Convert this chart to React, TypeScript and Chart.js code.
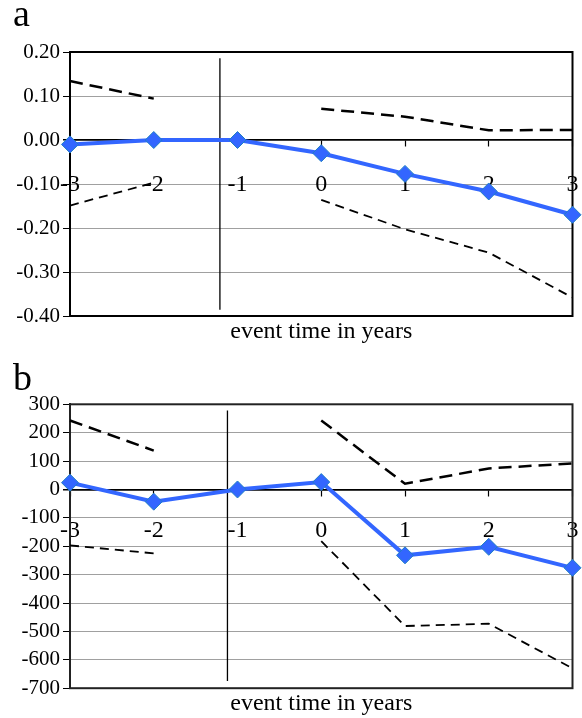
import React, { useEffect, useRef } from 'react';
import { Chart, registerables } from 'chart.js';

Chart.register(...registerables);

const FONT = "'Liberation Serif', 'Times New Roman', serif";

// shared x categories (event time)
const xCategories = [-3, -2, -1, 0, 1, 2, 3];
const xTickLabels = ['-3', '-2', '-1', '0', '1', '2', '3'];
const xTitle = 'event time in years';

// panel a
const aEstimate = [-0.01, 0.0, 0.0, -0.03, -0.077, -0.117, -0.17];
const aUpper = [0.134, 0.094, null, 0.071, 0.053, 0.022, 0.023];
const aLower = [-0.149, -0.097, null, -0.136, -0.203, -0.256, -0.358];
const aYTickLabels = ['-0.40', '-0.30', '-0.20', '-0.10', '0.00', '0.10', '0.20'];
const aVLineX = [-1.21, -1.21];
const aVLineY = [0.186, -0.386];

// panel b
const bEstimate = [24, -43, 0, 26, -232, -202, -276];
const bUpper = [243, 137, null, 243, 20, 74, 92];
const bLower = [-197, -225, null, -182, -481, -473, -630];
const bYTickLabels = ['-700', '-600', '-500', '-400', '-300', '-200', '-100', '0', '100', '200', '300'];
const bVLineX = [-1.12, -1.12];
const bVLineY = [278, -675];

const plotBorder = {
  id: 'plotBorder',
  beforeDatasetsDraw(chart: any, _args: any, opts: any) {
    const { ctx, chartArea: a } = chart;
    ctx.save();
    ctx.strokeStyle = opts.color || '#000';
    ctx.lineWidth = opts.width || 1.5;
    ctx.strokeRect(a.left, a.top, a.right - a.left, a.bottom - a.top);
    ctx.restore();
  },
};

type PanelProps = {
  est: (number | null)[];
  upper: (number | null)[];
  lower: (number | null)[];
  yLabels: string[];
  yMin: number;
  yMax: number;
  yStep: number;
  vx: number[];
  vy: number[];
  width: number;
  height: number;
  padding: { top: number; right: number; bottom: number; left: number };
  xLabelPad: number;
  borderColor: string;
};

function Panel(p: PanelProps) {
  const ref = useRef<HTMLCanvasElement | null>(null);
  useEffect(() => {
    if (!ref.current) return;
    const pts = (arr: (number | null)[]) => xCategories.map((x, i) => ({ x, y: arr[i] }));
    const chart = new Chart(ref.current, {
      type: 'line',
      data: {
        datasets: [
          {
            data: pts(p.est),
            borderColor: '#3366ff',
            backgroundColor: '#3366ff',
            borderWidth: 4,
            pointStyle: 'rectRot',
            pointRadius: 8.5,
            pointBackgroundColor: '#3366ff',
            pointBorderColor: '#1f7fc4',
            pointBorderWidth: 1,
            clip: false,
          } as any,
          {
            data: pts(p.upper),
            borderColor: '#000',
            borderWidth: 2.5,
            borderDash: [13, 7],
            pointRadius: 0,
            spanGaps: false,
            clip: false,
          },
          {
            data: pts(p.lower),
            borderColor: '#000',
            borderWidth: 1.8,
            borderDash: [9, 6],
            pointRadius: 0,
            spanGaps: false,
            clip: false,
          },
          {
            data: p.vx.map((x, i) => ({ x, y: p.vy[i] })),
            borderColor: '#000',
            borderWidth: 1.3,
            pointRadius: 0,
            clip: false,
          },
        ],
      },
      options: {
        responsive: false,
        animation: false,
        events: [],
        layout: { padding: p.padding },
        scales: {
          x: {
            type: 'linear',
            min: -3,
            max: 3,
            position: { y: 0 } as any,
            afterBuildTicks: (s: any) => {
              s.ticks = xCategories.map((v) => ({ value: v }));
            },
            afterFit: (s: any) => {
              s.paddingLeft = 0;
              s.paddingRight = 0;
            },
            ticks: {
              padding: p.xLabelPad,
              color: '#000',
              font: { family: FONT, size: 24 },
              maxRotation: 0,
              callback: (v: any) => {
                const i = xCategories.indexOf(Number(v));
                return i >= 0 ? xTickLabels[i] : '';
              },
            },
            grid: {
              drawOnChartArea: false,
              drawTicks: true,
              tickLength: 6,
              tickColor: '#000',
              tickWidth: 1.2,
            },
            border: { display: true, color: '#000', width: 1.5 },
          },
          y: {
            type: 'linear',
            min: p.yMin,
            max: p.yMax,
            afterFit: (s: any) => {
              s.width = 70;
            },
            ticks: {
              stepSize: p.yStep,
              padding: 3,
              color: '#000',
              font: { family: FONT, size: 21 },
              callback: (v: any) => {
                const n = Number(v);
                const lab = p.yLabels.find((l) => Math.abs(parseFloat(l) - n) < p.yStep / 100);
                return lab ?? '';
              },
            },
            grid: {
              color: (c: any) => (c.tick && Math.abs(c.tick.value) < 1e-9 ? '#000' : '#a0a0a0'),
              lineWidth: (c: any) => (c.tick && Math.abs(c.tick.value) < 1e-9 ? 1.5 : 1),
              drawTicks: true,
              tickLength: 7,
              tickColor: '#000',
            },
            border: { display: true, color: p.borderColor, width: 2 },
          },
        },
        plugins: {
          legend: { display: false },
          tooltip: { enabled: false },
          title: {
            display: true,
            text: xTitle,
            position: 'bottom',
            fullSize: false,
            color: '#000',
            font: { family: FONT, size: 24, weight: 'normal' },
            padding: { top: 1, bottom: 0 },
          },
          plotBorder: { color: p.borderColor, width: 2 },
        } as any,
      },
      plugins: [plotBorder],
    });
    return () => chart.destroy();
  }, []);
  return <canvas ref={ref} width={p.width} height={p.height} style={{ display: 'block', width: p.width, height: p.height }} />;
}

const letterStyle: React.CSSProperties = {
  position: 'absolute',
  left: 13,
  fontFamily: FONT,
  fontSize: 38,
  lineHeight: '38px',
  color: '#000',
};

export default function App() {
  return (
    <div style={{ position: 'absolute', left: 0, top: 0, width: 582, height: 718, background: '#fff' }}>
      <div style={{ position: 'absolute', left: 0, top: 0 }}>
        <Panel
          est={aEstimate}
          upper={aUpper}
          lower={aLower}
          yLabels={aYTickLabels}
          yMin={-0.4}
          yMax={0.2}
          yStep={0.1}
          vx={aVLineX}
          vy={aVLineY}
          width={582}
          height={360}
          padding={{ top: 52, right: 7, bottom: 14.2, left: 0 }}
          xLabelPad={24}
          borderColor="#000"
        />
      </div>
      <div style={{ position: 'absolute', left: 0, top: 360 }}>
        <Panel
          est={bEstimate}
          upper={bUpper}
          lower={bLower}
          yLabels={bYTickLabels}
          yMin={-700}
          yMax={300}
          yStep={100}
          vx={bVLineX}
          vy={bVLineY}
          width={582}
          height={358}
          padding={{ top: 44.3, right: 9, bottom: 0, left: 0 }}
          xLabelPad={21}
          borderColor="#222"
        />
      </div>
      <div style={{ ...letterStyle, top: -5.8 }}>a</div>
      <div style={{ ...letterStyle, top: 357.5 }}>b</div>
    </div>
  );
}
